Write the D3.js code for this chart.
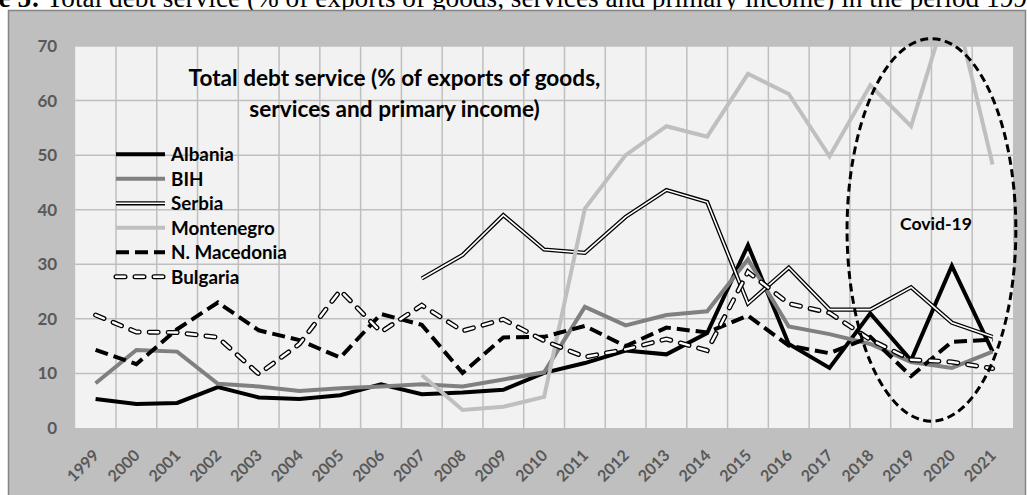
<!DOCTYPE html>
<html><head><meta charset="utf-8">
<script src="https://cdn.jsdelivr.net/npm/d3@7"></script>
<style>html,body{margin:0;padding:0;background:#fff;overflow:hidden}</style>
</head><body><svg id="c" width="1027" height="495"></svg>
<script>
// ---------- data ----------
const years = ["1999","2000","2001","2002","2003","2004","2005","2006","2007","2008","2009","2010","2011","2012","2013","2014","2015","2016","2017","2018","2019","2020","2021"];
const albania    = [5.3, 4.4, 4.6, 7.5, 5.6, 5.3, 6.0, 8.0, 6.2, 6.5, 7.0, 10.1, 11.9, 14.2, 13.5, 17.4, 33.5, 15.4, 11.0, 21.0, 12.4, 29.7, 14.0];
const bih        = [8.2, 14.3, 14.0, 8.1, 7.6, 6.8, 7.3, 7.6, 8.0, 7.6, 8.9, 10.2, 22.2, 18.8, 20.7, 21.4, 30.9, 18.6, 17.2, 15.4, 12.1, 11.0, 14.0];
const serbia     = [null, null, null, null, null, null, null, null, 27.4, 31.7, 39.0, 32.7, 32.1, 38.7, 43.6, 41.4, 22.8, 29.4, 21.7, 21.7, 25.8, 19.3, 16.7];
const montenegro = [null, null, null, null, null, null, null, null, 9.7, 3.3, 3.9, 5.7, 40.2, 50.0, 55.3, 53.4, 64.9, 61.2, 49.8, 62.8, 55.3, 79.6, 48.3];
const macedonia  = [14.3, 11.7, 18.1, 23.0, 17.9, 16.1, 12.9, 20.9, 18.9, 10.1, 16.6, 16.7, 18.7, 15.0, 18.4, 17.5, 20.6, 15.1, 13.7, 16.7, 9.5, 15.8, 16.2];
const bulgaria   = [20.7, 17.6, 17.5, 16.6, 9.9, 15.4, 25.2, 17.6, 22.5, 17.8, 19.9, 16.0, 13.0, 14.4, 16.3, 14.2, 28.6, 22.8, 21.1, 16.2, 12.5, 12.1, 10.9];
const seriesNames = ["Albania", "BIH", "Serbia", "Montenegro", "N. Macedonia", "Bulgaria"];
const yTicks = [0, 10, 20, 30, 40, 50, 60, 70];
const titleLines = ["Total debt service (% of exports of goods,", "services and primary income)"];
const captionBold = "Figure 5:";
const captionRest = " Total debt service (% of exports of goods, services and primary income) in the period 1999-2021";
const covidLabel = "Covid-19";
const covidCenterYears = ["2019", "2020"];
const covidCenterValue = 36.3;
const covidHalfBands = 2.07;
const covidHalfValue = 35.05;

// ---------- styles ----------
const styles = {
  "Albania":      {color:"#000000", w:4},
  "BIH":          {color:"#808080", w:4},
  "Serbia":       {color:"#000000", w:4.2, inner:"#ffffff", innerW:1.6},
  "Montenegro":   {color:"#bfbfbf", w:4},
  "N. Macedonia": {color:"#000000", w:4, dash:"13,6"},
  "Bulgaria":     {color:"#000000", w:5, dash:"9,10", inner:"#ffffff", innerW:2.4, cap:"round"}
};
const values = [albania, bih, serbia, montenegro, macedonia, bulgaria];

const svg = d3.select("#c");
const W = 1027, H = 495;
const plot = {left:75.2, right:1013, top:46, bottom:428};
const sans = "Lato, 'Open Sans', sans-serif";

const x = d3.scaleBand().domain(years).range([plot.left, plot.right]).padding(0);
const y = d3.scaleLinear().domain([0, 70]).range([plot.bottom, plot.top]);
const xc = d => x(d) + x.bandwidth() / 2;

function fitSize(sel, base, target) {
  sel.attr("font-size", base);
  const w = sel.node().getComputedTextLength();
  const s = base * target / w;
  sel.attr("font-size", s);
  return s;
}

svg.append("rect").attr("width", W).attr("height", H).attr("fill", "#fff");

// caption (cut at top, as in the reference)
const cap = svg.append("text").attr("font-family", "'Liberation Serif', 'Times New Roman', serif").attr("y", 7.3).attr("fill", "#000");
const meas = svg.append("text").attr("font-family", "'Liberation Serif', serif").text("Total debt service (% of exports of goods, services and primary income) in the period");
const capSize = fitSize(meas, 27, 933);
meas.remove();
cap.attr("font-size", capSize);
const tb = cap.append("tspan").attr("font-weight", "bold").text(captionBold);
cap.append("tspan").text(captionRest);
const boldW = tb.node().getComputedTextLength();
const spMeas = svg.append("text").attr("font-family", "'Liberation Serif', serif").attr("font-size", capSize).text("a a");
const spW = spMeas.node().getComputedTextLength();
spMeas.text("aa"); const spW2 = spMeas.node().getComputedTextLength(); spMeas.remove();
cap.attr("x", 47 - boldW - (spW - spW2));

// chart area
svg.append("rect").attr("x", 8.5).attr("y", 10.5).attr("width", 1017).attr("height", 520)
  .attr("fill", "#bfbfbf").attr("stroke", "#858585").attr("stroke-width", 1.5);

// plot area
svg.append("rect").attr("x", plot.left).attr("y", plot.top).attr("width", plot.right - plot.left).attr("height", plot.bottom - plot.top).attr("fill", "#f2f2f2");

// gridlines
const grid = svg.append("g");
grid.selectAll("line.h").data(yTicks.filter(v => v > 0)).join("line")
  .attr("x1", plot.left).attr("x2", plot.right).attr("y1", d => y(d)).attr("y2", d => y(d))
  .attr("stroke", "#bfbfbf").attr("stroke-width", 1.5);
grid.selectAll("line.v").data(years.slice(1)).join("line")
  .attr("x1", d => x(d)).attr("x2", d => x(d)).attr("y1", plot.top).attr("y2", plot.bottom)
  .attr("stroke", "#bfbfbf").attr("stroke-width", 1.5);

// y axis
const ya = svg.append("g").attr("transform", `translate(${plot.left},0)`)
  .call(d3.axisLeft(y).tickValues(yTicks).tickSize(0).tickPadding(18).tickFormat(d3.format("d")));
ya.select(".domain").remove();
ya.selectAll("text").attr("font-family", sans).attr("font-weight", "bold").attr("font-size", 17).attr("fill", "#595959");

// x axis
const xa = svg.append("g").attr("transform", `translate(0,${plot.bottom})`)
  .call(d3.axisBottom(x).tickSize(0));
xa.select(".domain").remove();
xa.selectAll("text").attr("font-family", sans).attr("font-weight", "bold").attr("font-size", 16).attr("fill", "#595959")
  .attr("text-anchor", "end").attr("y", 0).attr("dy", 0)
  .attr("transform", "translate(4.5,28.5) rotate(-45)");

// clip
svg.append("clipPath").attr("id", "pc").append("rect")
  .attr("x", plot.left).attr("y", plot.top).attr("width", plot.right - plot.left).attr("height", plot.bottom - plot.top);

const line = d3.line().defined(d => d != null).x((d, i) => xc(years[i])).y(d => y(d));
const lines = svg.append("g").attr("clip-path", "url(#pc)");

seriesNames.forEach((name, k) => {
  const st = styles[name];
  const p = lines.append("path").attr("d", line(values[k])).attr("fill", "none")
    .attr("stroke", st.color).attr("stroke-width", st.w).attr("stroke-linejoin", "miter").attr("stroke-miterlimit", 4)
    .attr("stroke-linecap", st.cap || "butt");
  if (st.dash) p.attr("stroke-dasharray", st.dash);
  if (st.inner) {
    const q = lines.append("path").attr("d", line(values[k])).attr("fill", "none")
      .attr("stroke", st.inner).attr("stroke-width", st.innerW).attr("stroke-linejoin", "miter")
      .attr("stroke-linecap", st.cap || "butt");
    if (st.dash) q.attr("stroke-dasharray", st.dash);
  }
});

// title
const tg = svg.append("g");
const t1 = tg.append("text").attr("x", 394.5).attr("y", 86).attr("text-anchor", "middle")
  .attr("font-family", sans).attr("font-weight", "bold").attr("fill", "#000").text(titleLines[0]);
const tSize = fitSize(t1, 20, 412);
tg.append("text").attr("x", 394.5).attr("y", 117).attr("text-anchor", "middle")
  .attr("font-family", sans).attr("font-weight", "bold").attr("font-size", tSize).attr("fill", "#000").text(titleLines[1]);

// legend
const lg = svg.append("g");
const legY0 = 154.3, legDy = 24.5;
const legTexts = [];
seriesNames.forEach((name, k) => {
  const st = styles[name];
  const yy = legY0 + k * legDy;
  const l = lg.append("line").attr("x1", 116).attr("x2", 165).attr("y1", yy).attr("y2", yy)
    .attr("stroke", st.color).attr("stroke-width", st.w).attr("stroke-linecap", st.cap || "butt");
  if (st.dash) l.attr("stroke-dasharray", st.dash);
  if (st.inner) {
    const l2 = lg.append("line").attr("x1", 116).attr("x2", 165).attr("y1", yy).attr("y2", yy)
      .attr("stroke", st.inner).attr("stroke-width", st.innerW).attr("stroke-linecap", st.cap || "butt");
    if (st.dash) l2.attr("stroke-dasharray", st.dash);
  }
  legTexts.push(lg.append("text").attr("x", 171).attr("y", yy).attr("dy", "0.36em")
    .attr("font-family", sans).attr("font-weight", "bold").attr("fill", "#000").text(name));
});
const lSize = fitSize(legTexts[4], 19, 116);
legTexts.forEach(t => t.attr("font-size", lSize));

// covid ellipse
const ecx = (xc(covidCenterYears[0]) + xc(covidCenterYears[1])) / 2;
svg.append("ellipse").attr("cx", ecx).attr("cy", y(covidCenterValue))
  .attr("rx", covidHalfBands * x.bandwidth()).attr("ry", y(0) - y(covidHalfValue))
  .attr("fill", "none").attr("stroke", "#000").attr("stroke-width", 3).attr("stroke-dasharray", "8,4.5");
const cl = svg.append("text").attr("x", ecx + 4.5).attr("y", y(37.4)).attr("dy", "0.36em").attr("text-anchor", "middle")
  .attr("font-family", sans).attr("font-weight", "bold").attr("fill", "#000").text(covidLabel);
fitSize(cl, 16, 72);
</script></body></html>
